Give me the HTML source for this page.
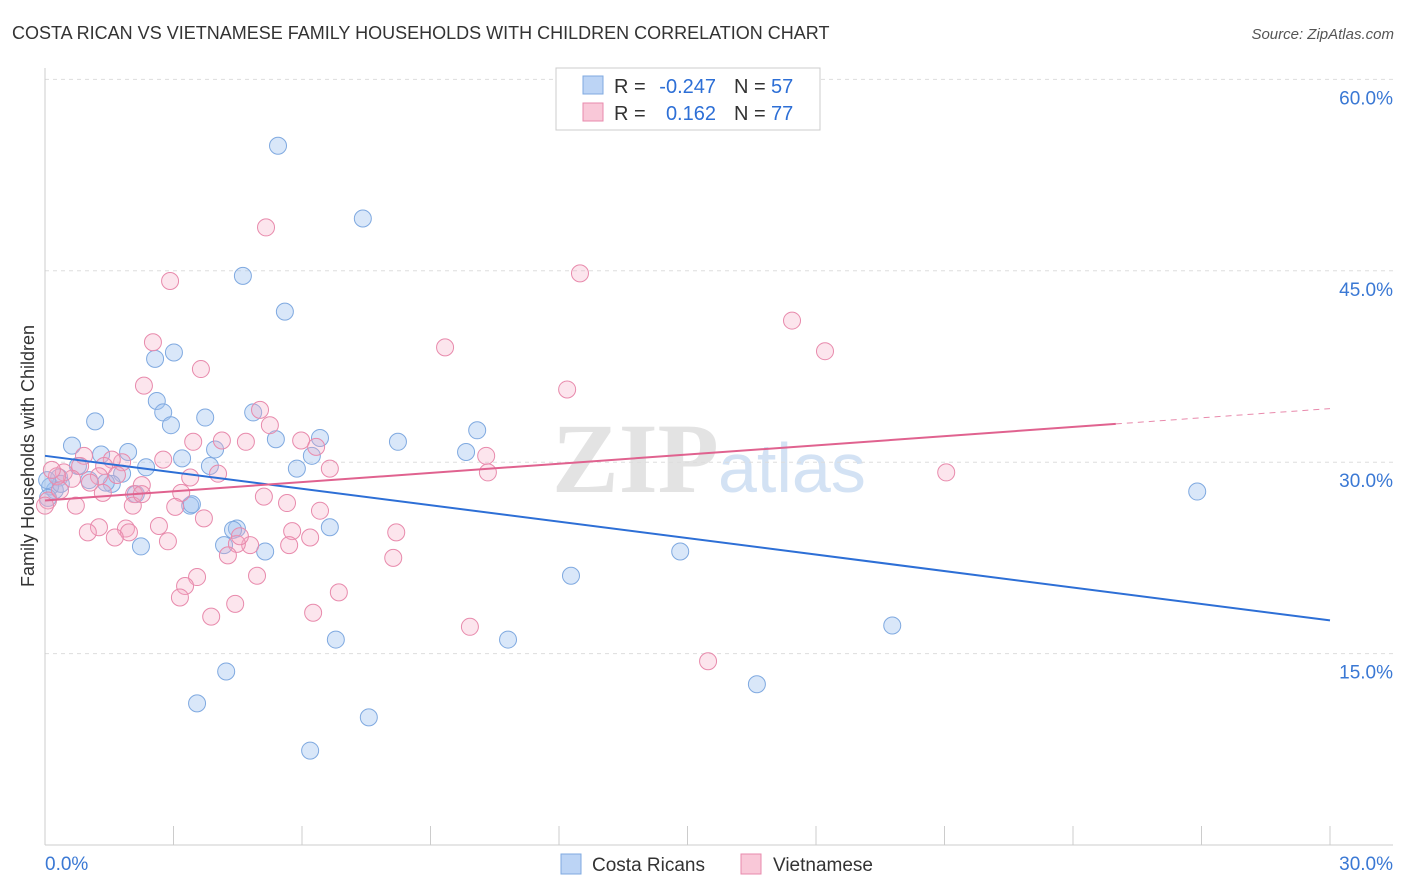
<!DOCTYPE html>
<html><head><meta charset="utf-8">
<style>
body{margin:0;background:#fff;font-family:"Liberation Sans",sans-serif;}
#wrap{position:relative;width:1406px;height:892px;overflow:hidden;}
</style></head>
<body>
<div id="wrap">
<svg id="chart" width="1406" height="892" xmlns="http://www.w3.org/2000/svg">
<text x="12" y="39" font-size="18" fill="#333">COSTA RICAN VS VIETNAMESE FAMILY HOUSEHOLDS WITH CHILDREN CORRELATION CHART</text>
<text x="1394" y="39" font-size="15" fill="#555" text-anchor="end" font-style="italic">Source: ZipAtlas.com</text>
<text x="552" y="492" font-size="100" fill="#e3e3e3" font-family="Liberation Serif,serif" font-weight="bold">ZIP</text>
<text x="718" y="492" font-size="70" fill="#d3e2f4">atlas</text>
<g id="grid"></g>
<g id="axes"></g>
<g id="marks"></g>
<text transform="translate(34,456) rotate(-90)" font-size="18" fill="#333" text-anchor="middle">Family Households with Children</text>
<g>
<rect x="556" y="68" width="264" height="62" fill="#fff" stroke="#ccc"/>
<rect x="583" y="76" width="20" height="18" fill="#bcd4f5" stroke="#7fa9e0"/>
<rect x="583" y="103" width="20" height="18" fill="#f9c8d8" stroke="#e88aac"/>
<text x="614" y="93" font-size="20" fill="#333">R =</text>
<text x="716" y="93" font-size="20" fill="#2d6fd6" text-anchor="end">-0.247</text>
<text x="734" y="93" font-size="20" fill="#333">N =</text>
<text x="771" y="93" font-size="20" fill="#2d6fd6">57</text>
<text x="614" y="120" font-size="20" fill="#333">R =</text>
<text x="716" y="120" font-size="20" fill="#2d6fd6" text-anchor="end">0.162</text>
<text x="734" y="120" font-size="20" fill="#333">N =</text>
<text x="771" y="120" font-size="20" fill="#2d6fd6">77</text>
</g>
<g>
<rect x="561" y="854" width="20" height="20" fill="#bcd4f5" stroke="#7fa9e0"/>
<text x="592" y="871" font-size="19" fill="#333">Costa Ricans</text>
<rect x="741" y="854" width="20" height="20" fill="#f9c8d8" stroke="#e88aac"/>
<text x="773" y="871" font-size="19" fill="#333">Vietnamese</text>
</g>
</svg>
</div>
<script>
const yTicks=[15,30,45,60];
const yTickLabels=["15.0%","30.0%","45.0%","60.0%"];
const xTicks=[0,3,6,9,12,15,18,21,24,27,30];
const xEndLabels=["0.0%","30.0%"];
const blueX=[5.44,7.42,4.62,5.60,3.01,2.57,2.61,2.76,2.94,3.74,4.86,1.17,0.63,1.31,1.94,3.20,3.97,5.39,6.42,6.23,5.88,3.85,2.36,0.77,1.80,1.56,1.03,0.33,0.23,1.42,2.12,3.39,3.43,4.48,4.39,4.18,5.14,2.24,6.65,8.24,10.09,9.83,6.79,4.23,3.55,6.19,7.56,10.81,12.28,14.83,16.62,19.78,26.9,0.12,0.07,0.37,0.05];
const blueY=[54.8,49.1,44.6,41.8,38.6,38.1,34.8,33.9,32.9,33.5,33.9,33.2,31.3,30.6,30.8,30.3,31.0,31.8,31.9,30.5,29.5,29.7,29.6,29.7,29.1,28.3,28.6,28.8,27.8,28.4,27.5,26.6,26.7,24.8,24.7,23.5,23.0,23.4,24.9,31.6,32.5,30.8,16.1,13.6,11.1,7.4,10.0,16.1,21.1,23.0,12.6,17.2,27.7,28.1,27.2,28.3,28.6];
const pinkX=[5.16,2.92,12.49,17.44,18.21,9.34,2.52,3.64,2.31,12.19,5.02,5.25,4.69,4.13,3.46,5.98,6.33,10.30,10.34,6.65,4.04,3.39,2.76,1.80,1.56,1.38,0.91,0.82,0.63,0.44,0.28,0.16,1.26,1.68,2.26,3.18,2.08,1.35,0.72,2.05,3.04,3.71,5.11,5.65,6.42,2.66,1.89,1.26,1.00,1.96,1.63,2.87,5.77,6.19,5.70,4.79,4.48,4.27,8.20,4.95,3.55,3.27,3.15,6.86,4.44,3.88,6.26,8.13,9.92,15.48,21.04,0.07,0,0.35,1.05,2.26,4.55];
const pinkY=[48.4,44.2,44.8,41.1,38.7,39.0,39.4,37.3,36.0,35.7,34.1,32.9,31.6,31.7,31.6,31.7,31.2,30.5,29.2,29.5,29.1,28.8,30.2,30.0,30.2,29.7,30.5,29.7,28.7,29.2,28.9,29.4,28.9,29.0,28.2,27.6,27.5,27.6,26.6,26.6,26.5,25.6,27.3,26.8,26.2,25.0,24.8,24.9,24.5,24.5,24.1,23.8,24.6,24.1,23.5,23.5,23.6,22.7,24.5,21.1,21.0,20.3,19.4,19.8,18.9,17.9,18.2,22.5,17.1,14.4,29.2,27.0,26.6,27.8,28.4,27.5,24.2];
const blueTrend=[30.5,17.6];
const pinkTrend=[27.0,33.0,34.2];
const pinkTrendX=[0,25,30];

const NS="http://www.w3.org/2000/svg";
const X0=45,X1=1330,Y0=845,YS=12.76;
function sx(v){return X0+(X1-X0)*v/30;}
function sy(v){return Y0-v*YS;}
function mk(tag,attrs,parent){const e=document.createElementNS(NS,tag);for(const k in attrs)e.setAttribute(k,attrs[k]);parent.appendChild(e);return e;}
const grid=document.getElementById('grid'),axes=document.getElementById('axes'),marks=document.getElementById('marks');
yTicks.forEach((t,i)=>{
  const l=mk('line',{x1:X0,x2:1393,y1:sy(t),y2:sy(t),stroke:'#ddd','stroke-dasharray':'4,4'},grid);
  
  
  const tx=mk('text',{x:1393,y:sy(t)+25,'font-size':19,fill:'#3a78d4','text-anchor':'end'},axes);
  tx.textContent=yTickLabels[i];
  
  
});
const ya=mk('line',{x1:X0,x2:X0,y1:68,y2:Y0,stroke:'#ccc'},axes);


const xa=mk('line',{x1:X0,x2:1393,y1:Y0,y2:Y0,stroke:'#ccc'},axes);


xTicks.forEach(t=>{
  const l=mk('line',{x1:sx(t),x2:sx(t),y1:826,y2:Y0,stroke:'#ccc'},axes);
  
  
});
[[0,'start',45],[30,'end',1393]].forEach((d,i)=>{
  const tx=mk('text',{x:d[2],y:870,'font-size':19,fill:'#3a78d4','text-anchor':d[1]},axes);
  tx.textContent=xEndLabels[i];
  
  
});
blueX.forEach((x,i)=>{
  const c=mk('circle',{cx:sx(x),cy:sy(blueY[i]),r:8.5,fill:'rgba(160,196,240,0.4)',stroke:'#7fa9e0','stroke-width':1},marks);
  
  
});
pinkX.forEach((x,i)=>{
  const c=mk('circle',{cx:sx(x),cy:sy(pinkY[i]),r:8.5,fill:'rgba(244,170,196,0.3)',stroke:'#e88aac','stroke-width':1},marks);
  
  
});
const bl=mk('line',{x1:sx(0),y1:sy(blueTrend[0]),x2:sx(30),y2:sy(blueTrend[1]),stroke:'#2d6fd6','stroke-width':2},marks);


const pl=mk('line',{x1:sx(pinkTrendX[0]),y1:sy(pinkTrend[0]),x2:sx(pinkTrendX[1]),y2:sy(pinkTrend[1]),stroke:'#e0628f','stroke-width':2},marks);


const pd=mk('line',{x1:sx(pinkTrendX[1]),y1:sy(pinkTrend[1]),x2:sx(pinkTrendX[2]),y2:sy(pinkTrend[2]),stroke:'#e88aac','stroke-width':1,'stroke-dasharray':'6,5'},marks);


</script>
</body></html>
